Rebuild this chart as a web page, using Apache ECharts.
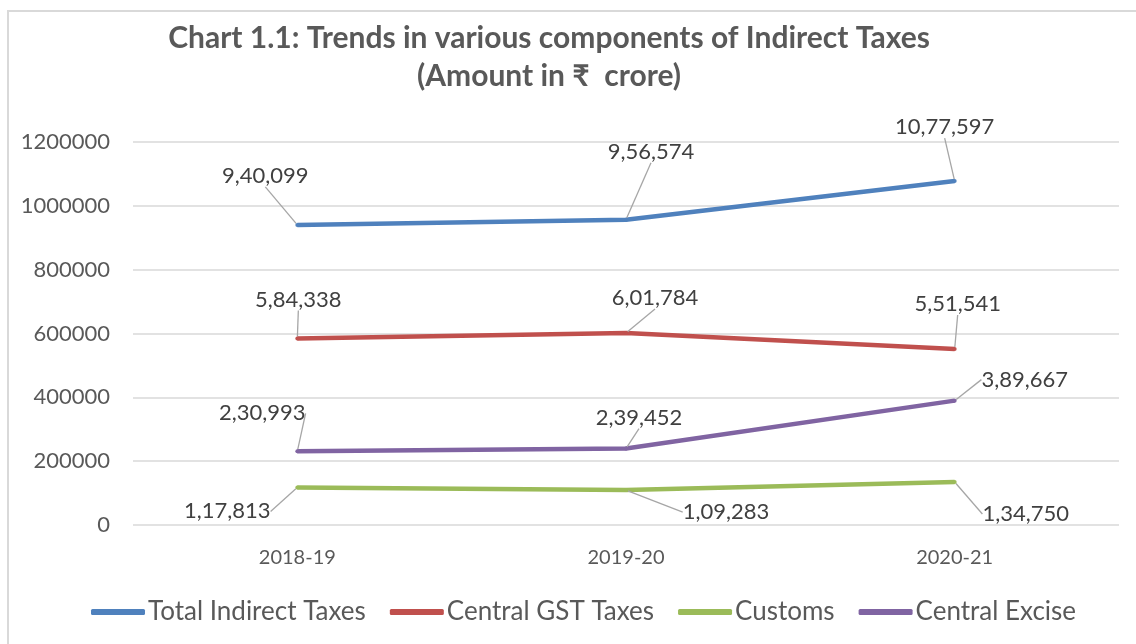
<!DOCTYPE html>
<html>
<head>
<meta charset="utf-8">
<script src="https://cdn.jsdelivr.net/npm/echarts@6/dist/echarts.min.js"></script>
<style>
  html, body { margin: 0; padding: 0; background: #fff; }
  #chart { width: 1136px; height: 644px; }
</style>
</head>
<body>
<div id="chart"></div>
<script>
const years = ["2018-19", "2019-20", "2020-21"];
const totalIndirect = [940099, 956574, 1077597];
const centralGst = [584338, 601784, 551541];
const customs = [117813, 109283, 134750];
const centralExcise = [230993, 239452, 389667];

// label centre offset from its point (px), per series / year
const labelOffsets = {
  "Total Indirect Taxes": [[-32, -49], [25, -68], [-10, -54]],
  "Central GST Taxes": [[1, -39], [29, -35], [3, -45]],
  "Customs": [[-70, 24], [100, 22], [71, 32]],
  "Central Excise": [[-35, -38], [13, -31], [70, -21]]
};

// Indian digit grouping, e.g. 9,40,099
function indianFmt(n) {
  const s = String(Math.round(n));
  if (s.length <= 3) return s;
  let last3 = s.slice(-3);
  let rest = s.slice(0, -3);
  rest = rest.replace(/\B(?=(\d{2})+(?!\d))/g, ",");
  return rest + "," + last3;
}

const FONT = "Lato";
const TEXT = "#595959";

function makeSeries(name, data, color) {
  return {
    name: name,
    type: "line",
    data: data,
    symbol: "circle",
    symbolSize: 4,
    itemStyle: { color: color },
    lineStyle: { color: color, width: 4.5 },
    label: {
      show: true,
      formatter: p => indianFmt(p.value),
      color: "#404040",
      fontFamily: FONT,
      fontSize: 22
    },
    labelLine: {
      show: true,
      lineStyle: { color: "#a6a6a6", width: 1.3 }
    },
    labelLayout: function (params) {
      const off = labelOffsets[name][params.dataIndex];
      const cx = params.rect.x + params.rect.width / 2;
      const cy = params.rect.y + params.rect.height / 2;
      return {
        x: cx + off[0],
        y: cy + off[1],
        align: "center",
        verticalAlign: "middle"
      };
    }
  };
}

const chart = echarts.init(document.getElementById("chart"));
chart.setOption({
  animation: false,
  backgroundColor: "#fff",
  graphic: [{
    type: "rect",
    shape: { x: 8, y: 11, width: 1140, height: 640 },
    style: { fill: "none", stroke: "#d9d9d9", lineWidth: 2 },
    silent: true
  }],
  title: {
    text: "Chart 1.1: Trends in various components of Indirect Taxes\n(Amount in ₹  crore)",
    left: 544,
    textAlign: "center",
    top: 14,
    textStyle: {
      fontFamily: FONT,
      fontWeight: "bold",
      fontSize: 30,
      lineHeight: 38,
      color: TEXT
    }
  },
  grid: { left: 133, right: 17, top: 142, bottom: 119, containLabel: false },
  xAxis: {
    type: "category",
    data: years,
    boundaryGap: true,
    axisLine: { show: false },
    axisTick: { show: false },
    axisLabel: { color: TEXT, fontFamily: FONT, fontSize: 20, margin: 23 }
  },
  yAxis: {
    type: "value",
    min: 0,
    max: 1200000,
    interval: 200000,
    axisLine: { show: false },
    axisTick: { show: false },
    splitLine: { lineStyle: { color: "#d9d9d9", width: 1.5 } },
    axisLabel: {
      color: TEXT, fontFamily: FONT, fontSize: 22, margin: 23,
      formatter: v => String(v)
    }
  },
  legend: {
    bottom: 14,
    left: 86,
    itemWidth: 54,
    itemHeight: 6,
    itemGap: 24,
    icon: "roundRect",
    textStyle: { color: TEXT, fontFamily: FONT, fontSize: 26, padding: [0, 0, 0, -2] },
    data: ["Total Indirect Taxes", "Central GST Taxes", "Customs", "Central Excise"]
  },
  series: [
    makeSeries("Total Indirect Taxes", totalIndirect, "#4F81BD"),
    makeSeries("Central GST Taxes", centralGst, "#C0504D"),
    makeSeries("Customs", customs, "#9BBB59"),
    makeSeries("Central Excise", centralExcise, "#8064A2")
  ]
});
</script>
</body>
</html>
